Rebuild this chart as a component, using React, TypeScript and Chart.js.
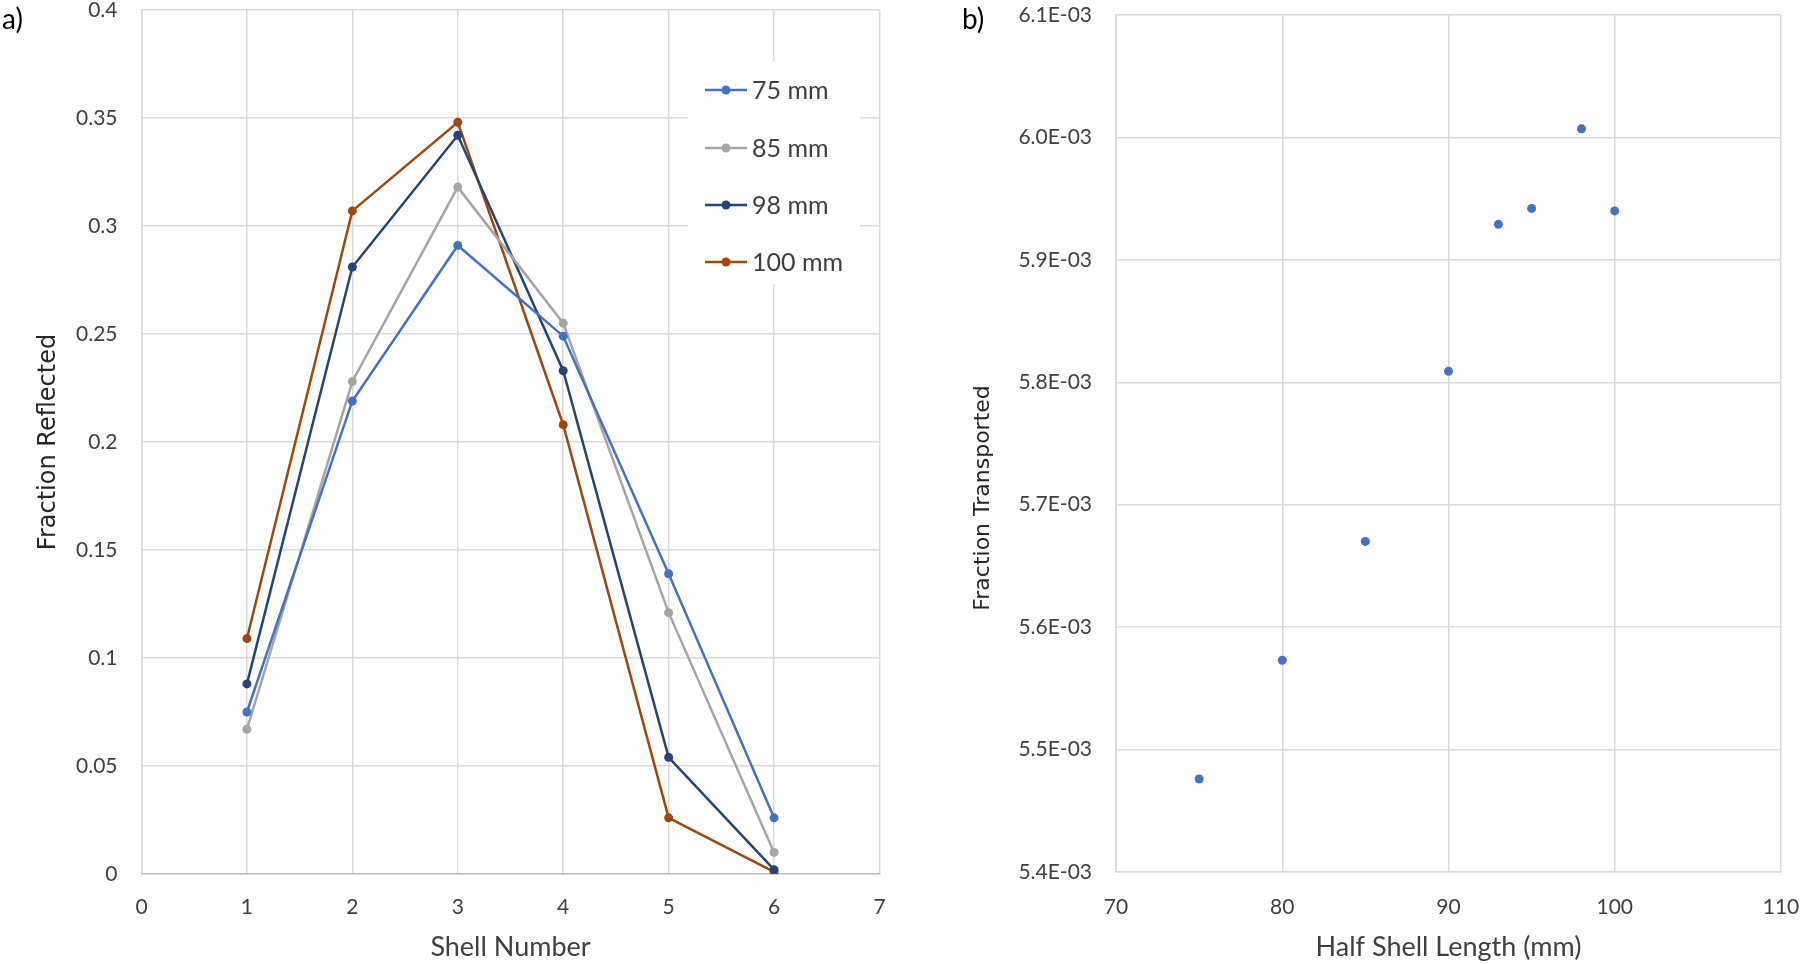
import React, { useEffect, useRef } from "react";
import { Chart, registerables } from "chart.js";
Chart.register(...registerables);

// ---- data: panel a) ----
const shellNumbers = [1, 2, 3, 4, 5, 6];
const seriesLabels = ["75 mm", "85 mm", "98 mm", "100 mm"];
const series75 = [0.075, 0.219, 0.291, 0.249, 0.139, 0.026];
const series85 = [0.067, 0.228, 0.318, 0.255, 0.121, 0.01];
const series98 = [0.088, 0.281, 0.342, 0.233, 0.054, 0.002];
const series100 = [0.109, 0.307, 0.348, 0.208, 0.026, 0.001];

// ---- data: panel b) ----
const halfShellLengths = [75, 80, 85, 90, 93, 95, 98, 100];
const fractionTransported = [5.476e-3, 5.573e-3, 5.67e-3, 5.809e-3, 5.929e-3, 5.942e-3, 6.007e-3, 5.94e-3];

const seriesColors = ["#4472C4", "#A5A5A5", "#264478", "#9E480E"];
const GRID = "#D9D9D9";
const TEXT = "#404040";
const SANS = "Lato, 'Liberation Sans', sans-serif";
const WIDE = "'DejaVu Sans', Verdana, sans-serif";

function fmtSci(v: number): string {
  const s = v.toExponential(1);
  const [m, e] = s.split("e");
  const n = parseInt(e, 10);
  const sign = n < 0 ? "-" : "+";
  const abs = Math.abs(n).toString().padStart(2, "0");
  return `${m}E${sign}${abs}`;
}

const panelLabel = (text: string, x: number, y: number) => ({
  id: "panelLabel",
  afterDraw(chart: any) {
    const ctx = chart.ctx;
    ctx.save();
    ctx.fillStyle = "#000";
    ctx.font = `28px ${SANS}`;
    ctx.textBaseline = "alphabetic";
    ctx.textAlign = "left";
    ctx.fillText(text, x, y);
    ctx.restore();
  },
});

const sideTitle = (text: string, x: number, y: number, size: number) => ({
  id: "sideTitle",
  afterDraw(chart: any) {
    const ctx = chart.ctx;
    ctx.save();
    ctx.translate(x, y);
    ctx.rotate(-Math.PI / 2);
    ctx.fillStyle = "#262626";
    ctx.font = `${size}px ${WIDE}`;
    ctx.textBaseline = "middle";
    ctx.textAlign = "center";
    ctx.fillText(text, 0, 0);
    ctx.restore();
  },
});

const legendBox = {
  id: "legendBox",
  afterDatasetsDraw(chart: any) {
    const ctx = chart.ctx;
    ctx.save();
    ctx.fillStyle = "#FFFFFF";
    ctx.fillRect(688, 62, 172, 222);
    const ys = [90, 148, 205, 262];
    chart.data.datasets.forEach((ds: any, i: number) => {
      const y = ys[i];
      ctx.strokeStyle = ds.borderColor;
      ctx.lineWidth = 2.5;
      ctx.beginPath();
      ctx.moveTo(705, y);
      ctx.lineTo(747, y);
      ctx.stroke();
      ctx.fillStyle = ds.borderColor;
      ctx.beginPath();
      ctx.arc(726, y, 4.5, 0, Math.PI * 2);
      ctx.fill();
      ctx.fillStyle = TEXT;
      ctx.font = `25px ${SANS}`;
      ctx.textBaseline = "middle";
      ctx.textAlign = "left";
      ctx.fillText(ds.label, 752, y + 1);
    });
    ctx.restore();
  },
};

const fixX = (h: number) => (s: any) => {
  s.height = h;
  s.paddingLeft = 0;
  s.paddingRight = 0;
};
const fixY = (w: number) => (s: any) => {
  s.width = w;
  s.paddingTop = 0;
  s.paddingBottom = 0;
};

function LeftChart() {
  const ref = useRef<HTMLCanvasElement>(null);
  useEffect(() => {
    const allSeries = [series75, series85, series98, series100];
    const chart = new Chart(ref.current!, {
      type: "line",
      data: {
        datasets: allSeries.map((s, i) => ({
          label: seriesLabels[i],
          data: shellNumbers.map((x, j) => ({ x, y: s[j] })),
          borderColor: seriesColors[i],
          backgroundColor: seriesColors[i],
          borderWidth: 2.5,
          pointRadius: 4.5,
          pointBorderWidth: 0,
          pointBackgroundColor: seriesColors[i],
          tension: 0,
        })),
      },
      options: {
        animation: false,
        responsive: false,
        maintainAspectRatio: false,
        layout: { padding: { left: 0, right: 20.5, top: 10, bottom: 0 } },
        plugins: { legend: { display: false }, tooltip: { enabled: false } },
        scales: {
          x: {
            type: "linear",
            min: 0,
            max: 7,
            ticks: { stepSize: 1, padding: 21, color: TEXT, font: { family: SANS, size: 21 } },
            grid: { color: GRID, lineWidth: 1.5, drawTicks: false },
            border: { color: "#BFBFBF", width: 1.5 },
            title: { display: true, text: "Shell Number", color: TEXT, font: { family: SANS, size: 27 }, padding: { top: 0, bottom: 1 } },
            afterFit: fixX(90),
          },
          y: {
            min: 0,
            max: 0.4,
            ticks: {
              stepSize: 0.05,
              padding: 24,
              color: TEXT,
              font: { family: SANS, size: 21 },
              callback: (v: any) => String(parseFloat(Number(v).toFixed(2))),
            },
            grid: { color: GRID, lineWidth: 1.5, drawTicks: false },
            border: { color: GRID, width: 1.5 },
            title: { display: true, text: "Fraction Reflected", color: "#262626", font: { family: WIDE, size: 24 }, padding: { top: 34, bottom: 0 } },
            afterFit: fixY(141.5),
          },
        },
      },
      plugins: [legendBox, panelLabel("a)", 2, 29)],
    } as any);
    return () => chart.destroy();
  }, []);
  return <canvas ref={ref} width={900} height={964} style={{ position: "absolute", left: 0, top: 0 }} />;
}

function RightChart() {
  const ref = useRef<HTMLCanvasElement>(null);
  useEffect(() => {
    const chart = new Chart(ref.current!, {
      type: "scatter",
      data: {
        datasets: [
          {
            label: "Fraction Transported",
            data: halfShellLengths.map((x, j) => ({ x, y: fractionTransported[j] })),
            backgroundColor: "#4472C4",
            borderColor: "#4472C4",
            pointRadius: 4.5,
            pointBorderWidth: 0,
          },
        ],
      },
      options: {
        animation: false,
        responsive: false,
        maintainAspectRatio: false,
        layout: { padding: { left: 0, right: 19, top: 15, bottom: 0 } },
        plugins: { legend: { display: false }, tooltip: { enabled: false } },
        scales: {
          x: {
            type: "linear",
            min: 70,
            max: 110,
            ticks: { stepSize: 10, padding: 23, color: TEXT, font: { family: SANS, size: 21 } },
            grid: { color: GRID, lineWidth: 1.5, drawTicks: false },
            border: { color: GRID, width: 1.5 },
            title: { display: true, text: "Half Shell Length (mm)", color: TEXT, font: { family: SANS, size: 27 }, padding: { top: 0, bottom: 1 } },
            afterFit: fixX(92),
          },
          y: {
            min: 0.0054,
            max: 0.0061,
            ticks: { stepSize: 0.0001, padding: 24, color: TEXT, font: { family: SANS, size: 21 }, callback: (v: any) => fmtSci(Number(v)) },
            grid: { color: GRID, lineWidth: 1.5, drawTicks: false },
            border: { color: GRID, width: 1.5 },
            title: { display: false },
            afterFit: fixY(216),
          },
        },
      },
      plugins: [panelLabel("b)", 62, 29), sideTitle("Fraction Transported", 83, 498, 22)],
    } as any);
    return () => chart.destroy();
  }, []);
  return <canvas ref={ref} width={900} height={964} style={{ position: "absolute", left: 900, top: 0 }} />;
}

export default function App() {
  return (
    <div style={{ position: "absolute", left: 0, top: 0, width: 1800, height: 964, background: "#fff", overflow: "hidden" }}>
      <LeftChart />
      <RightChart />
    </div>
  );
}
